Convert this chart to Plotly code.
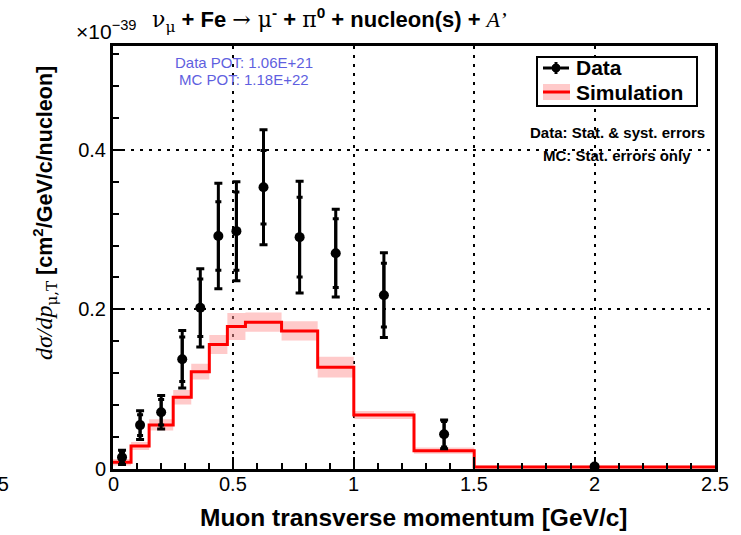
import plotly.graph_objects as go

# ---------------- data ----------------
bin_edges = [0, 0.075, 0.15, 0.25, 0.325, 0.4, 0.475, 0.55, 0.7, 0.85, 1.0, 1.25, 1.5, 2.5]
data_x = [0.0375, 0.1125, 0.2, 0.2875, 0.3625, 0.4375, 0.5125, 0.625, 0.775, 0.925, 1.125, 1.375, 2.0]
data_y = [0.0146, 0.055, 0.071, 0.1375, 0.202, 0.292, 0.298, 0.353, 0.2905, 0.2704, 0.2178, 0.0435, 0.003]
data_err_tot = [0.009, 0.018, 0.021, 0.036, 0.049, 0.066, 0.062, 0.072, 0.070, 0.055, 0.053, 0.018, 0.002]
data_err_stat = [0.007, 0.013, 0.016, 0.028, 0.036, 0.043, 0.049, 0.046, 0.050, 0.043, 0.040, 0.016, 0.002]
mc_y = [0.0084, 0.0288, 0.0552, 0.0899, 0.122, 0.156, 0.1785, 0.184, 0.173, 0.1275, 0.0677, 0.023, 0.0025]
mc_err = [0.004, 0.005, 0.007, 0.009, 0.010, 0.012, 0.017, 0.012, 0.012, 0.013, 0.005, 0.004, 0.002]

x_tickvals = [0, 0.5, 1, 1.5, 2, 2.5]
x_ticktext = ["0", "0.5", "1", "1.5", "2", "2.5"]
y_tickvals = [0, 0.2, 0.4]
y_ticktext = ["0", "0.2", "0.4"]

title_text = ("<span style='font-family:DejaVu Serif'>ν<sub>μ</sub></span><b> + Fe </b>"
              "<span style='font-family:DejaVu Serif'>→ μ</span><sup><b>-</b></sup><b> + </b>"
              "<span style='font-family:DejaVu Serif'>π</span><sup><b>0</b></sup>"
              "<b> + nucleon(s) + </b><span style='font-family:Liberation Serif'><i>A’</i></span>")
xlabel = "<b>Muon transverse momentum [GeV/c]</b>"
ylabel = ("<span style='font-family:Liberation Serif;font-size:24px'><i>dσ/dp</i></span>"
          "<sub><span style='font-family:DejaVu Serif'>μ,T</span></sub> "
          "<b>[cm<sup>2</sup>/GeV/c/nucleon]</b>")

# --------------- geometry helpers (pixel -> paper) ---------------
L, R, T, B = 113, 715, 46, 469
W, H = 741, 535
def px(x): return (x - L) / (R - L)
def py(y): return (B - y) / (B - T)

fig = go.Figure()

# MC band
step_x = bin_edges
lo = [v - e for v, e in zip(mc_y, mc_err)]
hi = [v + e for v, e in zip(mc_y, mc_err)]
fig.add_trace(go.Scatter(x=step_x, y=lo + [lo[-1]], mode="lines", line=dict(width=0, shape="hv"),
                         hoverinfo="skip", showlegend=False))
fig.add_trace(go.Scatter(x=step_x, y=hi + [hi[-1]], mode="lines", line=dict(width=0, shape="hv"),
                         fill="tonexty", fillcolor="rgba(255,150,150,0.5)", hoverinfo="skip", showlegend=False))
# MC line
fig.add_trace(go.Scatter(x=step_x, y=mc_y + [mc_y[-1]], mode="lines",
                         line=dict(color="#ff0000", width=3, shape="hv"), showlegend=False))
# data: total errors
fig.add_trace(go.Scatter(x=data_x, y=data_y, mode="markers",
                         marker=dict(color="black", size=10),
                         error_y=dict(type="data", array=data_err_tot, color="black", thickness=3, width=4),
                         showlegend=False))
# data: stat errors (inner ticks)
fig.add_trace(go.Scatter(x=data_x, y=data_y, mode="markers",
                         marker=dict(color="black", size=1, opacity=0),
                         error_y=dict(type="data", array=data_err_stat, color="black", thickness=3, width=3),
                         showlegend=False))

font_main = "Liberation Sans, Arial, sans-serif"
ann = []
# x tick labels (placed closer to the axis, as in the reference)
for v, t in zip(x_tickvals, x_ticktext):
    ann.append(dict(text=t, x=v, y=py(484), xref="x", yref="paper", showarrow=False,
                    font=dict(size=20, color="black", family=font_main), xanchor="center", yanchor="middle"))
ann.append(dict(text=title_text, x=px(329), y=py(20), xref="paper", yref="paper",
                showarrow=False, font=dict(size=22, color="black"), xanchor="center", yanchor="middle"))
ann.append(dict(text="×10<sup>−39</sup>", x=px(74), y=py(30), xref="paper", yref="paper",
                showarrow=False, font=dict(size=21, color="black"), xanchor="left", yanchor="middle"))
ann.append(dict(text="Data POT: 1.06E+21", x=px(244), y=py(63), xref="paper", yref="paper",
                showarrow=False, font=dict(size=15, color="#5f5fe0"), xanchor="center", yanchor="middle"))
ann.append(dict(text="MC POT: 1.18E+22", x=px(244), y=py(79), xref="paper", yref="paper",
                showarrow=False, font=dict(size=15, color="#5f5fe0"), xanchor="center", yanchor="middle"))
ann.append(dict(text="<b>Data: Stat. &amp; syst. errors</b>", x=px(617), y=py(132), xref="paper", yref="paper",
                showarrow=False, font=dict(size=15, color="black"), xanchor="center", yanchor="middle"))
ann.append(dict(text="<b>MC: Stat. errors only</b>", x=px(617), y=py(155), xref="paper", yref="paper",
                showarrow=False, font=dict(size=15, color="black"), xanchor="center", yanchor="middle"))
# legend texts
ann.append(dict(text="<b>Data</b>", x=px(574), y=py(68), xref="paper", yref="paper",
                showarrow=False, font=dict(size=21, color="black"), xanchor="left", yanchor="middle"))
ann.append(dict(text="<b>Simulation</b>", x=px(574), y=py(92), xref="paper", yref="paper",
                showarrow=False, font=dict(size=21, color="black"), xanchor="left", yanchor="middle"))
# axis titles
ann.append(dict(text=xlabel, x=px(413), y=py(517), xref="paper", yref="paper",
                showarrow=False, font=dict(size=24.5, color="black"), xanchor="center", yanchor="middle"))
ann.append(dict(text=ylabel, x=px(45), y=py(213), xref="paper", yref="paper", textangle=-90,
                showarrow=False, font=dict(size=21.5, color="black"), xanchor="center", yanchor="middle"))
# stray label at far left
ann.append(dict(text="0.5", x=px(11), y=py(484), xref="paper", yref="paper",
                showarrow=False, font=dict(size=20, color="black"), xanchor="right", yanchor="middle"))

shapes = []
# legend box
shapes.append(dict(type="rect", xref="paper", yref="paper", x0=px(537), x1=px(697), y0=py(106), y1=py(57),
                   line=dict(color="black", width=2), fillcolor="white", layer="above"))
shapes.append(dict(type="line", xref="paper", yref="paper", x0=px(543), x1=px(569), y0=py(68), y1=py(68),
                   line=dict(color="black", width=3), layer="above"))
shapes.append(dict(type="line", xref="paper", yref="paper", x0=px(556), x1=px(556), y0=py(62), y1=py(74),
                   line=dict(color="black", width=3), layer="above"))
shapes.append(dict(type="circle", xref="paper", yref="paper", x0=px(552), x1=px(560), y0=py(72), y1=py(64),
                   line=dict(color="black", width=1), fillcolor="black", layer="above"))
shapes.append(dict(type="rect", xref="paper", yref="paper", x0=px(543), x1=px(570), y0=py(100), y1=py(84),
                   line=dict(width=0), fillcolor="rgba(255,150,150,0.5)", layer="above"))
shapes.append(dict(type="line", xref="paper", yref="paper", x0=px(543), x1=px(570), y0=py(92), y1=py(92),
                   line=dict(color="#ff0000", width=3), layer="above"))

fig.update_layout(
    width=W, height=H,
    margin=dict(l=L, r=W - R, t=T, b=H - B),
    paper_bgcolor="white", plot_bgcolor="white",
    font=dict(family=font_main, color="black"),
    annotations=ann, shapes=shapes, showlegend=False,
)
fig.update_xaxes(range=[0, 2.5], tickvals=x_tickvals, showticklabels=False,
                 ticks="inside", ticklen=12, tickwidth=2, tickcolor="black",
                 minor=dict(dtick=0.1, ticks="inside", ticklen=6, tickwidth=2, tickcolor="black", showgrid=False),
                 showline=True, linewidth=3, linecolor="black", mirror=True,
                 showgrid=True, gridcolor="black", gridwidth=2, griddash="3px,6px", zeroline=False)
fig.update_yaxes(range=[0, 0.53], tickvals=y_tickvals, ticktext=y_ticktext,
                 ticks="inside", ticklen=12, tickwidth=2, tickcolor="black",
                 tickfont=dict(size=20, family=font_main),
                 minor=dict(dtick=0.04, ticks="inside", ticklen=6, tickwidth=2, tickcolor="black", showgrid=False),
                 showline=True, linewidth=3, linecolor="black", mirror=True,
                 showgrid=True, gridcolor="black", gridwidth=2, griddash="3px,6px", zeroline=False)

fig.write_html("out.html")
